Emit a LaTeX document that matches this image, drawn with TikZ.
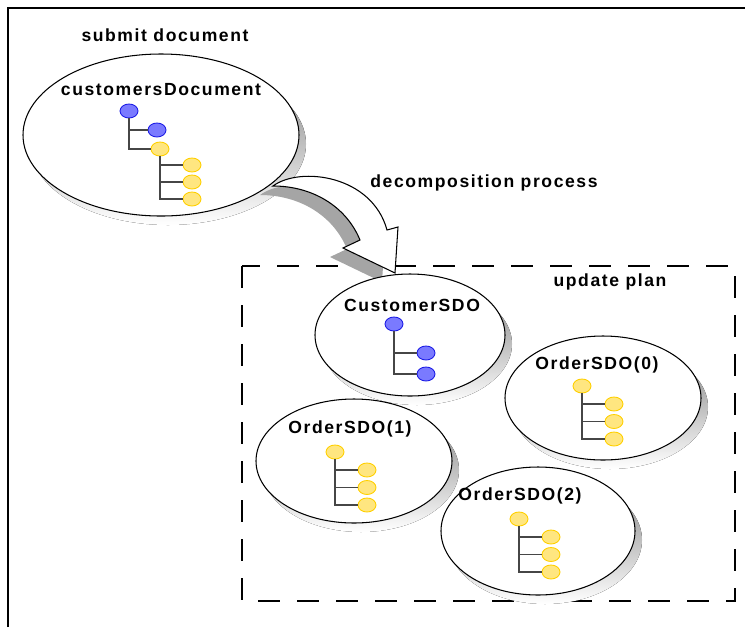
\documentclass[tikz,border=0pt]{standalone}
\usepackage{fontspec}
\usepackage{tikz}
\usetikzlibrary{shapes.geometric}
\newfontfamily\labelfont{Liberation Sans}[LetterSpace=9]
\definecolor{shade}{RGB}{165,165,165}
\definecolor{leafblue}{RGB}{122,122,255}
\definecolor{edgeblue}{RGB}{30,30,230}
\definecolor{leafyellow}{RGB}{255,230,128}
\definecolor{edgeyellow}{RGB}{255,208,0}
\definecolor{branchgray}{RGB}{70,70,70}
\tikzset{
  title/.style={font=\labelfont\bfseries\fontsize{10}{12}\selectfont, inner sep=0pt},
  leaf/.style={ellipse, minimum width=0.36cm, minimum height=0.28cm, inner sep=0pt, line width=0.5pt},
  blueleaf/.style={leaf, fill=leafblue, draw=edgeblue},
  yellowleaf/.style={leaf, fill=leafyellow, draw=edgeyellow},
  branch/.style={draw=branchgray, line width=0.9pt}
}

\begin{document}
\begin{tikzpicture}[x=0.02cm, y=-0.02cm]
    \useasboundingbox (0,0) rectangle (745,627);
    \draw[line width=1.4pt] (8,627) -- (8,8) -- (745,8);
    \node[title] (submit) at (165,35) {submit document};
    % the submitted document
    \fill[shade] (168,144) ellipse (138 and 81);
    \draw[fill=white, line width=0.6pt] (161,135) ellipse (138 and 81);
    \node[title] (docname) at (161,90) {customersDocument};
    \node[blueleaf] (d0) at (129,111) {};
    \node[blueleaf] (d1) at (157,130) {};
    \node[yellowleaf] (d2) at (160,149) {};
    \node[yellowleaf] (d3) at (192,165) {};
    \node[yellowleaf] (d4) at (192,182) {};
    \node[yellowleaf] (d5) at (192,199) {};
    \draw[branch] (d0) |- (d1);
    \draw[branch] (d0) |- (d2);
    \foreach \k in {3,4,5}
      \draw[branch] (d2) |- (d\k);
    % update plan
    \draw[dashed, dash pattern=on 12.5pt off 9.7pt, line width=0.6pt] (242,266) rectangle (735,601);
    \node[title] (plan) at (610,282) {update plan};
    \path[fill=shade, shift={(-13,9)}] (273,186) .. controls (300,166) and (372,175) .. (387,230) -- (398,227) -- (395,273) -- (343,248) -- (360,240) .. controls (346,206) and (312,186) .. (273,186) -- cycle;
    \draw[fill=white, line width=0.6pt, line join=miter] (273,186) .. controls (300,166) and (372,175) .. (387,230) -- (398,227) -- (395,273) -- (343,248) -- (360,240) .. controls (346,206) and (312,186) .. (273,186) -- cycle;
    \node[title] (decomp) at (484,183) {decomposition process};
    \foreach \cx/\cy/\rx/\ry in {410/335/95/61, 603/398/98/62, 354/461/98/62, 538/531/97/64} {
      \fill[shade] (\cx+7,\cy+9) ellipse [x radius=\rx, y radius=\ry];
      \draw[fill=white, line width=0.6pt] (\cx,\cy) ellipse [x radius=\rx, y radius=\ry];
    }
    \node[title] (custsdo) at (412,305) {CustomerSDO};
    \node[title] (order0) at (597,365) {OrderSDO(0)};
    \node[title] (order1) at (350,429) {OrderSDO(1)};
    \node[title] (order2) at (520,496) {OrderSDO(2)};
    \node[blueleaf] (c0) at (394,324) {};
    \node[blueleaf] (c1) at (426,353) {};
    \node[blueleaf] (c2) at (426,374) {};
    \draw[branch] (c0) |- (c1);
    \draw[branch] (c0) |- (c2);
    \foreach \tr/\x/\y in {a/582/386, b/335/452, e/519/519} {
      \node[yellowleaf] (\tr0) at (\x,\y) {};
      \foreach \k/\dy in {1/18, 2/35.5, 3/53} {
        \node[yellowleaf] (\tr\k) at (\x+32,\y+\dy) {};
        \draw[branch] (\tr0) |- (\tr\k);
      }
    }
  \end{tikzpicture}
\end{document}
